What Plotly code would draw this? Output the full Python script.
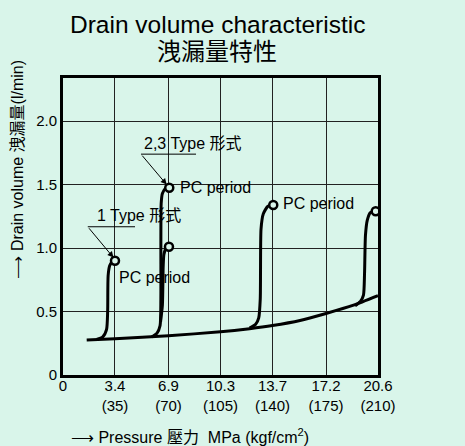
import plotly.graph_objects as go

# pressure ticks (MPa) and kgf/cm2 equivalents
x_ticks = [0, 3.4, 6.9, 10.3, 13.7, 17.2, 20.6]
x_kgf = [None, 35, 70, 105, 140, 175, 210]
y_ticks = [0, 0.5, 1.0, 1.5, 2.0]
y_labels = ["0", "0.5", "1.0", "1.5", "2.0"]

# base drain curve
base_x = [1.55, 3.4, 6.9, 10.3, 12.2, 13.7, 15.5, 17.2, 19.0, 20.6]
base_y = [0.275, 0.285, 0.31, 0.34, 0.365, 0.39, 0.43, 0.485, 0.55, 0.625]

# PC period rises
c1_x = [2.2, 2.6, 2.85, 2.92, 2.95, 3.05, 3.2, 3.4]
c1_y = [0.28, 0.30, 0.36, 0.5, 0.78, 0.86, 0.89, 0.90]
c2a_x = [5.8, 6.15, 6.35, 6.4, 6.42, 6.5, 6.7, 6.95]
c2a_y = [0.30, 0.33, 0.39, 0.6, 1.35, 1.43, 1.47, 1.475]
c2b_x = [6.38, 6.5, 6.55, 6.6, 6.75, 6.93]
c2b_y = [0.42, 0.55, 0.85, 0.95, 1.0, 1.01]
c3_x = [12.2, 12.6, 12.8, 12.9, 12.95, 13.1, 13.4, 13.75]
c3_y = [0.37, 0.40, 0.45, 0.6, 1.15, 1.27, 1.33, 1.34]
c4_x = [19.1, 19.45, 19.65, 19.72, 19.78, 19.9, 20.1, 20.45]
c4_y = [0.545, 0.58, 0.63, 0.8, 1.1, 1.22, 1.28, 1.29]

curves = [(base_x, base_y), (c1_x, c1_y), (c2a_x, c2a_y), (c2b_x, c2b_y),
          (c3_x, c3_y), (c4_x, c4_y)]

# label positions
pc_x = [3.53, 7.5, 14.25, 21.0]
pc_y = [0.765, 1.48, 1.355, 1.205]
type_text = ["1 Type 形式", "2,3 Type 形式"]
type_x = [2.1, 5.15]
type_y = [1.255, 1.825]
uline_x0 = [1.62, 5.1]
uline_x1 = [4.71, 8.7]
uline_y = [1.168, 1.74]
arrow_x = [3.3, 6.78]
arrow_y = [0.925, 1.5]

BG = "#d9f5ea"
FONT = "Liberation Sans, Arial, Noto Sans CJK TC, sans-serif"

fig = go.Figure()
for cx, cy in curves:
    fig.add_trace(go.Scatter(x=cx, y=cy, mode="lines",
                             line=dict(color="black", width=3, shape="spline", smoothing=0.6),
                             showlegend=False, hoverinfo="skip"))

ends = curves[1:]
fig.add_trace(go.Scatter(
    x=[c[0][-1] for c in ends], y=[c[1][-1] for c in ends], mode="markers",
    marker=dict(symbol="circle", size=8, color=BG, line=dict(color="black", width=2.5)),
    showlegend=False, cliponaxis=False, hoverinfo="skip"))

annotations = []
for px_, py_ in zip(pc_x, pc_y):
    annotations.append(dict(x=px_, y=py_, text="PC period", showarrow=False,
                            xanchor="left", yanchor="middle",
                            font=dict(size=16, color="black")))
for i in range(2):
    annotations.append(dict(x=type_x[i], y=type_y[i], text=type_text[i], showarrow=False,
                            xanchor="left", yanchor="middle",
                            font=dict(size=16, color="black")))
    annotations.append(dict(x=arrow_x[i], y=arrow_y[i], ax=uline_x0[i], ay=uline_y[i],
                            axref="x", ayref="y", text="", showarrow=True,
                            arrowhead=2, arrowsize=1.2, arrowwidth=1, arrowcolor="black"))
    fig.add_shape(type="line", x0=uline_x0[i], x1=uline_x1[i], y0=uline_y[i], y1=uline_y[i],
                  line=dict(color="black", width=1))

# titles
annotations.append(dict(xref="paper", yref="paper", x=(217 - 63) / 315, y=1.18,
                        text="Drain volume characteristic", showarrow=False,
                        xanchor="center", yanchor="middle",
                        font=dict(size=24.5, color="black")))
annotations.append(dict(xref="paper", yref="paper", x=(217 - 63) / 315, y=1.09,
                        text="洩漏量特性", showarrow=False,
                        xanchor="center", yanchor="middle",
                        font=dict(size=24, color="black")))
annotations.append(dict(xref="paper", yref="paper", x=-0.143, y=0.695,
                        text="⟶ Drain volume 洩漏量(l/min)", textangle=-90,
                        showarrow=False, xanchor="center", yanchor="middle",
                        font=dict(size=16, color="black")))
annotations.append(dict(xref="paper", yref="paper", x=0.02, y=-0.205,
                        text="⟶ Pressure 壓力  MPa (kgf/cm<sup>2</sup>)",
                        showarrow=False, xanchor="left", yanchor="middle",
                        font=dict(size=16, color="black")))

x_text = ["0" if k is None else f"{v}<br>({k})" for v, k in zip(x_ticks, x_kgf)]

fig.update_layout(
    width=465, height=446,
    margin=dict(l=63, r=87, t=78, b=71),
    paper_bgcolor=BG, plot_bgcolor=BG,
    font=dict(family=FONT, color="black", size=15),
    xaxis=dict(range=[0, 20.6], tickvals=x_ticks, ticktext=x_text,
               showgrid=True, gridcolor="#222", gridwidth=1.2, zeroline=False,
               showline=True, linecolor="black", linewidth=3, mirror=True,
               ticks="", tickfont=dict(size=15), ticklabelstandoff=-5),
    yaxis=dict(range=[0, 2.34], tickvals=y_ticks, ticktext=y_labels,
               showgrid=True, gridcolor="#222", gridwidth=1.2, zeroline=False,
               showline=True, linecolor="black", linewidth=3, mirror=True,
               ticks="", tickfont=dict(size=15)),
    annotations=annotations,
)

fig.write_html("out.html", config={"displayModeBar": False},
               post_script="document.body.style.margin='0';"
                           "document.body.style.background='" + BG + "';")
